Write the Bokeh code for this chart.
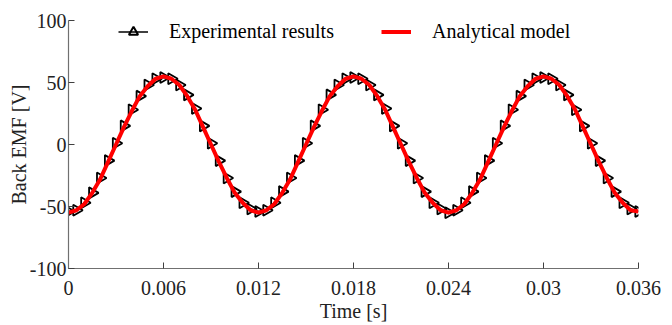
import numpy as np
from bokeh.plotting import figure
from bokeh.models import Legend, LegendItem, FixedTicker, CustomJSTickFormatter, ColumnDataSource
from bokeh.embed import file_html
from bokeh.resources import INLINE

# time grid [s]
time_s = np.round(np.arange(0, 0.03601, 0.0005), 4)

# Experimental back EMF [V]
exp_emf = [
    -54, -53, -47, -39, -27, -13, 1, 15, 28, 39, 48, 53,
    54, 53, 48, 40, 29, 15, 1, -13, -27, -38, -47, -52,
    -54, -53, -47, -38, -27, -13, 1, 15, 28, 40, 48, 53,
    54, 53, 48, 40, 29, 15, 1, -13, -27, -38, -47, -52,
    -55, -53, -47, -38, -27, -13, 1, 15, 28, 39, 48, 53,
    54, 53, 48, 40, 28, 15, 1, -13, -27, -38, -47, -52,
    -54,
]

# Analytical model back EMF [V]
ana_emf = [
    -55, -53, -48, -39, -28, -14, 0, 14, 27, 39, 47, 53,
    55, 53, 48, 39, 28, 14, 0, -14, -27, -39, -47, -53,
    -55, -53, -48, -39, -28, -14, 0, 14, 27, 39, 47, 53,
    55, 53, 48, 39, 28, 14, 0, -14, -27, -39, -47, -53,
    -55, -53, -48, -39, -28, -14, 0, 14, 27, 39, 47, 53,
    55, 53, 48, 39, 28, 14, 0, -14, -27, -39, -47, -53,
    -54,
]

x_ticks = [0, 0.006, 0.012, 0.018, 0.024, 0.03, 0.036]
x_tick_labels = ["0", "0.006", "0.012", "0.018", "0.024", "0.03", "0.036"]
y_ticks = [-100, -50, 0, 50, 100]
y_tick_labels = ["-100", "-50", "0", "50", "100"]

FONT = "Liberation Serif"

p = figure(width=672, height=325, x_range=(0, 0.036), y_range=(-100, 100),
           output_backend="svg", toolbar_location=None,
           min_border_left=68, min_border_right=34, min_border_top=20, min_border_bottom=57)
p.outline_line_color = None
p.grid.visible = False
p.background_fill_color = "white"

src = ColumnDataSource(dict(t=time_s, e=exp_emf))
src2 = ColumnDataSource(dict(t=time_s, a=ana_emf))

exp_line = p.line("t", "e", source=src, line_color="black", line_width=1.5)
exp_pts = p.scatter("t", "e", source=src, marker="triangle", size=11, angle=-np.pi / 2,
                    line_color="black", line_width=1.8, fill_color=None)
ana_line = p.line("t", "a", source=src2, line_color="#ff0000", line_width=4, line_join="round")

# legend-only upright triangle (placed outside the visible range)
leg_tri = p.scatter(x=[-1.0], y=[-1000.0], marker="triangle", size=12, line_color="black",
                    line_width=2, fill_color=None)

legend = Legend(items=[LegendItem(label="Experimental results", renderers=[exp_line, leg_tri]),
                       LegendItem(label="Analytical model", renderers=[ana_line])],
                orientation="horizontal", location=(50, 225),
                glyph_width=30, glyph_height=23, label_standoff=21, spacing=47,
                label_text_font=FONT, label_text_font_size="20px", label_text_color="black",
                border_line_color=None, background_fill_alpha=0, padding=0, margin=0)
p.add_layout(legend)

for ax in (p.xaxis[0], p.yaxis[0]):
    ax.axis_line_color = "#707070"
    ax.axis_line_width = 1.2
    ax.major_tick_line_color = "#404040"
    ax.major_tick_in = 6
    ax.major_tick_out = 0
    ax.minor_tick_line_color = None
    ax.major_label_text_font = FONT
    ax.major_label_text_font_size = "20px"
    ax.major_label_text_color = "#222222"
    ax.axis_label_text_font = FONT
    ax.axis_label_text_font_size = "20px"
    ax.axis_label_text_font_style = "normal"
    ax.axis_label_text_color = "#222222"

p.xaxis.ticker = FixedTicker(ticks=x_ticks)
p.xaxis.formatter = CustomJSTickFormatter(args=dict(labels=x_tick_labels),
                                          code="return labels[Math.round(tick / 0.006)];")
p.xaxis.axis_label = "Time [s]"
p.xaxis.major_label_standoff = 12
p.xaxis.axis_label_standoff = 2

p.yaxis.ticker = FixedTicker(ticks=y_ticks)
p.yaxis.formatter = CustomJSTickFormatter(args=dict(labels=y_tick_labels),
                                          code="return labels[Math.round((tick + 100) / 50)];")
p.yaxis.axis_label = "Back EMF [V]"
p.yaxis.major_label_standoff = 2
p.yaxis.axis_label_standoff = -3

open("out.html", "w").write(file_html(p, INLINE))
